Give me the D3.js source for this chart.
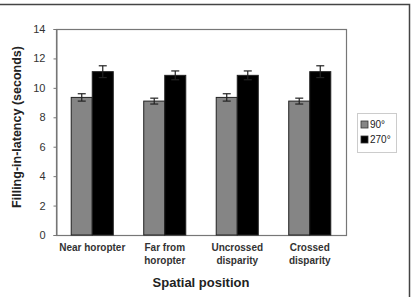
<!DOCTYPE html>
<html>
<head>
<meta charset="utf-8">
<script src="https://cdn.jsdelivr.net/npm/d3@7"></script>
<style>
  body { margin: 0; background: #fff; }
  svg { display: block; font-family: "Liberation Sans", Arial, sans-serif; }
</style>
</head>
<body>
<svg id="chart" width="412" height="297"></svg>
<script>
const categories = [['Near horopter'], ['Far from', 'horopter'], ['Uncrossed', 'disparity'], ['Crossed', 'disparity']]
const seriesNames = ['90°', '270°']
const values90 = [9.35, 9.1, 9.35, 9.1]
const errors90 = [0.25, 0.2, 0.25, 0.2]
const values270 = [11.1, 10.85, 10.85, 11.1]
const errors270 = [0.4, 0.3, 0.3, 0.4]
const yTicks = [0, 2, 4, 6, 8, 10, 12, 14]

const svg = d3.select('#chart')
const colors = ['#858585', '#000']

// outer frame (top and right edges visible)
svg.append('path')
  .attr('d', 'M0,4.5H409.5V297')
  .attr('fill', 'none').attr('stroke', '#444').attr('stroke-width', 1.5)

const plot = { left: 56, right: 346, top: 29, bottom: 235 }

const x0 = d3.scaleBand().domain(d3.range(categories.length))
  .range([plot.left, plot.right]).paddingInner(0.42).paddingOuter(0.21)
const x1 = d3.scaleBand().domain([0, 1]).range([0, x0.bandwidth()])
const y = d3.scaleLinear().domain([0, 14]).range([plot.bottom, plot.top])

// plot frame
svg.append('rect')
  .attr('x', plot.left + 0.5).attr('y', plot.top + 0.5)
  .attr('width', plot.right - plot.left).attr('height', plot.bottom - plot.top)
  .attr('fill', '#fff').attr('stroke', '#777').attr('stroke-width', 1.2)

// y axis
const yAxis = svg.append('g')
  .attr('transform', `translate(${plot.left + 0.5},0)`)
  .call(d3.axisLeft(y).tickValues(yTicks).tickSize(3).tickPadding(8))
yAxis.select('.domain').attr('stroke', '#777')
yAxis.selectAll('.tick line').attr('stroke', '#777')
yAxis.selectAll('text').attr('font-size', 11).attr('fill', '#333')
  .attr('font-family', '"Liberation Sans", Arial, sans-serif')

// bars
const series = [
  { vals: values90, errs: errors90 },
  { vals: values270, errs: errors270 }
]
series.forEach((s, si) => {
  const g = svg.append('g')
  s.vals.forEach((v, i) => {
    const bx = x0(i) + x1(si)
    g.append('rect')
      .attr('x', bx).attr('y', y(v))
      .attr('width', x1.bandwidth()).attr('height', y(0) - y(v))
      .attr('fill', colors[si]).attr('stroke', '#222').attr('stroke-width', 1)
    const cx = bx + x1.bandwidth() / 2
    const hi = y(v + s.errs[i])
    const lo = y(v - s.errs[i])
    g.append('line').attr('x1', cx).attr('x2', cx).attr('y1', hi).attr('y2', lo)
      .attr('stroke', '#222').attr('stroke-width', 1.2)
    g.append('line').attr('x1', cx - 4).attr('x2', cx + 4).attr('y1', hi).attr('y2', hi)
      .attr('stroke', '#222').attr('stroke-width', 1.2)
    g.append('line').attr('x1', cx - 4).attr('x2', cx + 4).attr('y1', lo).attr('y2', lo)
      .attr('stroke', '#222').attr('stroke-width', 1.2)
  })
})

// x category labels
categories.forEach((lines, i) => {
  const t = svg.append('text')
    .attr('x', x0(i) + x0.bandwidth() / 2).attr('y', 251)
    .attr('text-anchor', 'middle').attr('font-size', 10).attr('font-weight', 'bold')
    .attr('fill', '#333')
  lines.forEach((ln, j) => {
    t.append('tspan').attr('x', x0(i) + x0.bandwidth() / 2).attr('dy', j ? 13 : 0).text(ln)
  })
})

// axis titles
svg.append('text')
  .attr('x', (plot.left + plot.right) / 2).attr('y', 287)
  .attr('text-anchor', 'middle').attr('font-size', 13).attr('font-weight', 'bold')
  .attr('fill', '#222').text('Spatial  position')

svg.append('text')
  .attr('transform', 'translate(21,127) rotate(-90)')
  .attr('text-anchor', 'middle').attr('font-size', 12.5).attr('font-weight', 'bold')
  .attr('fill', '#222').text('Filling-in-latency  (seconds)')

// legend
const lg = svg.append('g').attr('transform', 'translate(357,113)')
lg.append('rect').attr('x', 0.5).attr('y', 0.5).attr('width', 39).attr('height', 39)
  .attr('fill', '#fff').attr('stroke', '#ccc')
seriesNames.forEach((name, i) => {
  lg.append('rect').attr('x', 4).attr('y', 8 + i * 15).attr('width', 7).attr('height', 7)
    .attr('fill', colors[i]).attr('stroke', '#333').attr('stroke-width', 0.8)
  lg.append('text').attr('x', 13).attr('y', 15 + i * 15)
    .attr('font-size', 10).attr('fill', '#222').text(name)
})
</script>
</body>
</html>
